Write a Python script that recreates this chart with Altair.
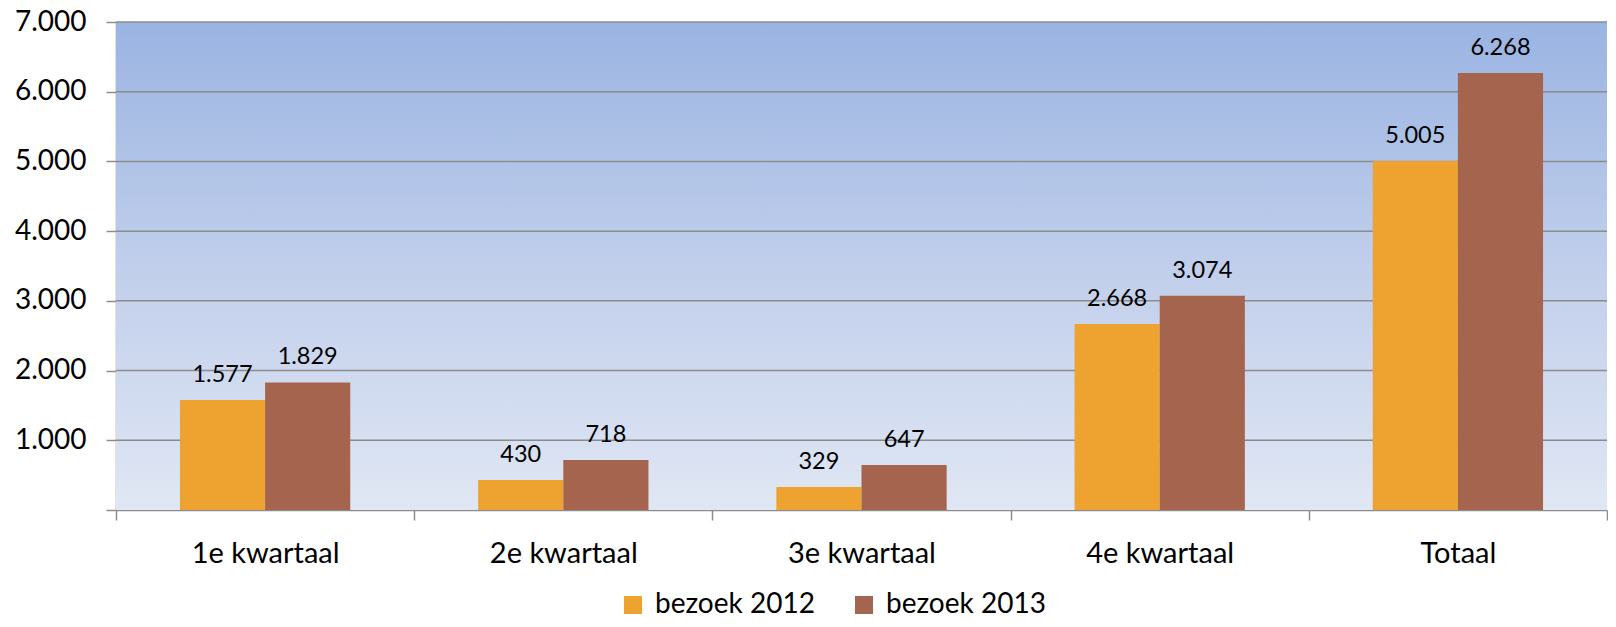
import altair as alt
import pandas as pd

categories = ["1e kwartaal", "2e kwartaal", "3e kwartaal", "4e kwartaal", "Totaal"]
series = ["bezoek 2012", "bezoek 2013"]
values_2012 = [1577, 430, 329, 2668, 5005]
values_2013 = [1829, 718, 647, 3074, 6268]
y_ticks = [0, 1000, 2000, 3000, 4000, 5000, 6000, 7000]
colors = ["#EEA22F", "#A5644E"]

rows = []
for c, a, b in zip(categories, values_2012, values_2013):
    rows.append({"cat": c, "serie": series[0], "value": a})
    rows.append({"cat": c, "serie": series[1], "value": b})
df = pd.DataFrame(rows)
grid_df = pd.DataFrame({"value": y_ticks[1:]})
bg_df = pd.DataFrame({"a": [0]})

FONT = "Lato"
W, H = 1491, 488
GRID = "#8c8c8c"

x_enc = alt.X("cat:N", sort=categories,
              scale=alt.Scale(paddingInner=0, paddingOuter=0),
              axis=alt.Axis(title=None, labelAngle=0, labelFontSize=29, labelFont=FONT,
                            labelColor="#000000", tickBand="extent", tickSize=10,
                            tickColor=GRID, tickWidth=1.5, domainColor=GRID,
                            domainWidth=1.5, labelPadding=19, grid=False))
xoff_enc = alt.XOffset("serie:N", sort=series,
                       scale=alt.Scale(paddingInner=0, paddingOuter=0.751))
y_enc = alt.Y("value:Q",
              scale=alt.Scale(domain=[0, 7000], nice=False),
              axis=alt.Axis(title=None, values=y_ticks, labelFontSize=28, labelFont=FONT,
                            labelColor="#000000", tickSize=10, tickColor=GRID,
                            tickWidth=1.5, domainColor=GRID, domainWidth=1.5,
                            grid=False, labelPadding=20,
                            labelExpr="datum.value == 0 ? '' : replace(format(datum.value, ','), ',', '.')"))

background = alt.Chart(bg_df).mark_rect(
    fill=alt.LinearGradient(gradient="linear", x1=0, x2=0, y1=0, y2=1,
                            stops=[alt.GradientStop(color="#9AB4E2", offset=0),
                                   alt.GradientStop(color="#C4D1EC", offset=0.55),
                                   alt.GradientStop(color="#E0E7F4", offset=1)])
).encode(x=alt.value(0), x2=alt.value(W), y=alt.value(0), y2=alt.value(H))

gridlines = alt.Chart(grid_df).mark_rule(color=GRID, strokeWidth=1.5).encode(
    y=y_enc, x=alt.value(0), x2=alt.value(W)
)

base = alt.Chart(df)

bars = base.mark_bar(stroke=None).encode(
    x=x_enc,
    xOffset=xoff_enc,
    y=y_enc,
    color=alt.Color("serie:N", sort=series,
                    scale=alt.Scale(domain=series, range=colors),
                    legend=alt.Legend(title=None, orient="none", direction="horizontal",
                                      legendX=503, legendY=569, symbolType="square",
                                      symbolSize=324, symbolStrokeWidth=0,
                                      labelFontSize=28, labelFont=FONT, labelColor="#000000",
                                      labelOffset=8, columnPadding=35)),
)

labels = base.transform_calculate(
    lbl="replace(format(datum.value, ','), ',', '.')"
).mark_text(font=FONT, fontSize=23.5, color="#000000", baseline="alphabetic", dy=-18).encode(
    x=x_enc,
    xOffset=xoff_enc,
    y=y_enc,
    text="lbl:N",
)

chart = alt.layer(background, gridlines, bars, labels).properties(
    width=W, height=H,
    autosize=alt.AutoSizeParams(type="none"),
    padding={"left": 108, "top": 14, "right": 1, "bottom": 109},
).configure_view(stroke=None)

chart.save("out.html", embed_options={"renderer": "svg", "actions": False})
